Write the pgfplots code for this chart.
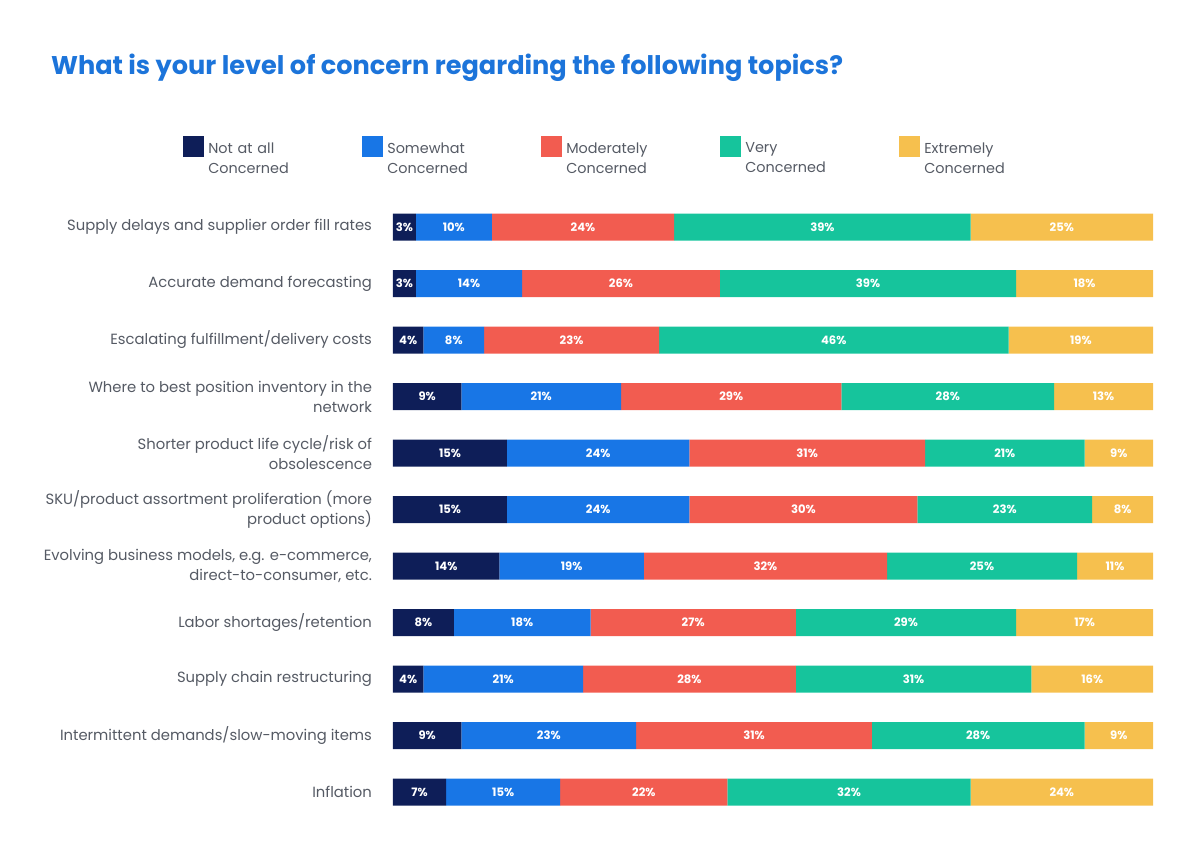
\documentclass[border=0pt]{standalone}
\usepackage{pgfplots}
\pgfplotsset{compat=1.18}
\usepackage{pgfplotstable}
\usepackage{fontspec}
\setmainfont{Poppins}
\definecolor{cNavy}{RGB}{14,30,88}
\definecolor{cBlue}{RGB}{24,118,230}
\definecolor{cRed}{RGB}{242,92,80}
\definecolor{cTeal}{RGB}{22,196,156}
\definecolor{cYellow}{RGB}{246,192,78}
\definecolor{cTitle}{RGB}{28,116,218}
\definecolor{cText}{RGB}{85,90,100}

% y = row, a..e = Not at all, Somewhat, Moderately, Very, Extremely; eb = drawn length of last segment
\pgfplotstableread{
y a b c d e eb
0 3 10 24 39 25 24
1 3 14 26 39 18 18
2 4 8 23 46 19 19
3 9 21 29 28 13 13
4 15 24 31 21 9 9
5 15 24 30 23 8 8
6 14 19 32 25 11 10
7 8 18 27 29 17 18
8 4 21 28 31 16 16
9 9 23 31 28 9 9
10 7 15 22 32 24 24
}\datatable

\pgfplotsset{sqleg/.style={legend image code/.code={\fill[##1] (0pt,-4pt) rectangle (10.5pt,6.5pt);}}}

\begin{document}
\begin{tikzpicture}
\useasboundingbox (0,0) rectangle (600pt,424pt);
\begin{axis}[
  at={(196.5pt,13.875pt)}, anchor=south west,
  width=380pt, height=310.75pt, scale only axis,
  xbar stacked, bar width=13.5pt,
  xmin=0, xmax=100, ymin=-0.5, ymax=10.5, y dir=reverse,
  axis line style={draw=none},
  xtick=\empty,
  ytick={0,...,10},
  major tick length=0pt,
  tick style={draw=none},
  /pgf/number format/assume math mode=true,
  yticklabels={
    Supply delays and supplier order fill rates,
    Accurate demand forecasting,
    Escalating fulfillment/delivery costs,
    {Where to best position inventory in the\\network},
    {Shorter product life cycle/risk of\\obsolescence},
    {SKU/product assortment proliferation (more\\product options)},
    {Evolving business models, e.g. e-commerce,\\direct-to-consumer, etc.},
    Labor shortages/retention,
    Supply chain restructuring,
    Intermittent demands/slow-moving items,
    Inflation},
  yticklabel style={align=right, font=\fontsize{7.4}{10}\selectfont, text=cText, xshift=-7pt},
  point meta=explicit,
  nodes near coords={\pgfmathprintnumber{\pgfplotspointmeta}\%},
  every node near coord/.append style={font=\bfseries\fontsize{5.8}{6}\selectfont, text=white},
  title={What is your level of concern regarding the following topics?},
  title style={at={(-0.4592,1.191)}, anchor=west, font=\bfseries\fontsize{12.8}{15}\selectfont, text=cTitle},
  legend columns=5,
  legend style={draw=none, fill=none, at={(-0.2843,1.1074)}, anchor=north west,
    font=\fontsize{7.2}{10}\selectfont, text=cText,
    nodes={align=left, text width=60pt},
    /tikz/every even column/.append style={column sep=15pt}},
]
\addplot[fill=cNavy, draw=none, sqleg] table[x=a, y=y, meta=a] {\datatable};
\addplot[fill=cBlue, draw=none, sqleg] table[x=b, y=y, meta=b] {\datatable};
\addplot[fill=cRed, draw=none, sqleg] table[x=c, y=y, meta=c] {\datatable};
\addplot[fill=cTeal, draw=none, sqleg] table[x=d, y=y, meta=d] {\datatable};
\addplot[fill=cYellow, draw=none, sqleg] table[x=eb, y=y, meta=e] {\datatable};
\legend{{Not at all\\Concerned},{Somewhat\\Concerned},{Moderately\\Concerned},{Very\\Concerned},{Extremely\\Concerned}}
\end{axis}
\end{tikzpicture}
\end{document}
